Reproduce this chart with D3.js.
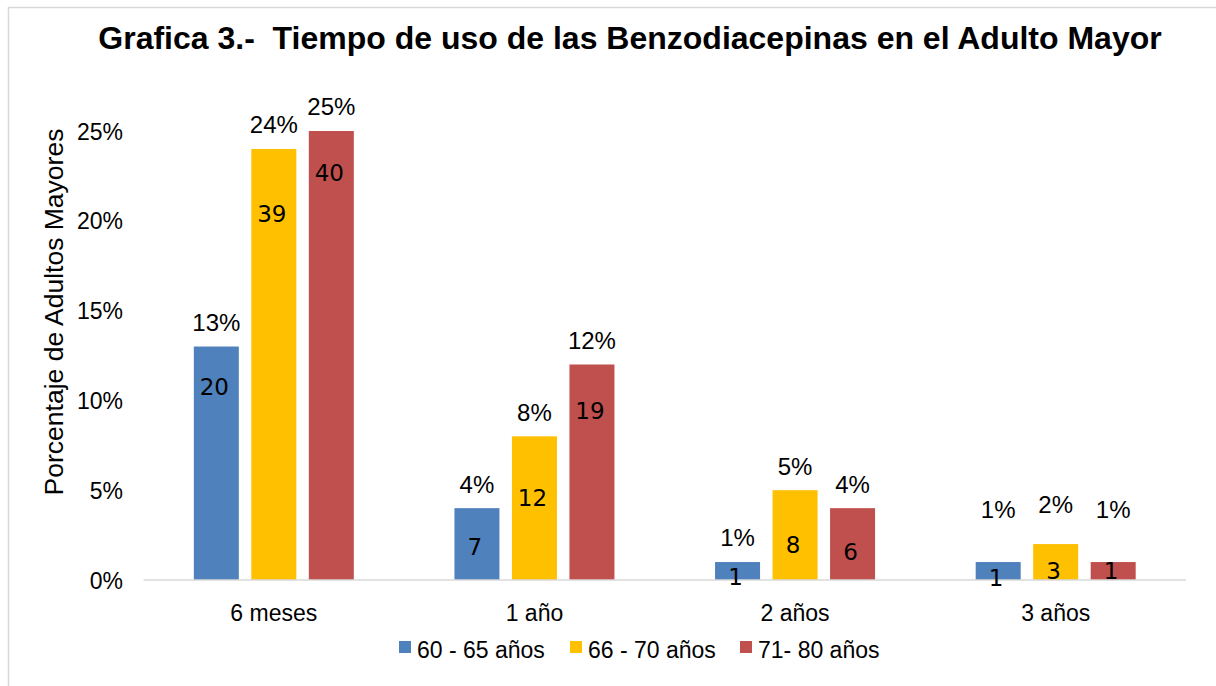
<!DOCTYPE html>
<html><head><meta charset="utf-8">
<script src="https://cdn.jsdelivr.net/npm/d3@7/dist/d3.min.js"></script>
<style>body{margin:0;background:#fff}svg{display:block}text{white-space:pre}</style>
</head><body>
<script>
const categories = ["6 meses", "1 año", "2 años", "3 años"];
const seriesNames = ["60 - 65 años", "66 - 70 años", "71- 80 años"];
const pct60 = [13, 4, 1, 1];
const pct66 = [24, 8, 5, 2];
const pct71 = [25, 12, 4, 1];
const cnt60 = [20, 7, 1, 1];
const cnt66 = [39, 12, 8, 3];
const cnt71 = [40, 19, 6, 1];
const yTicks = [0, 5, 10, 15, 20, 25];
const colors = ["#4F81BD", "#FFC000", "#C0504D"];
// label anchor values (layout, in axis units) mimicking manual placement
const cntLabelAt = [[10.75, 1.84, 0.17, 0.11], [20.4, 4.6, 1.95, 0.5], [22.7, 9.4, 1.6, 0.5]];
const pctLabelAt = [[13, 4, 1, 2.56], [24, 8, 5, 2.84], [25, 12, 4, 2.56]];

const W = 1216, H = 686;
const svg = d3.select("body").append("svg").attr("width", W).attr("height", H);
svg.append("path").attr("d", "M8.5,686 V7.5 H1216").attr("fill", "none").attr("stroke", "#d9d9d9").attr("stroke-width", 1.5);

const x0 = d3.scaleBand().domain(categories).range([143.5, 1186]);
const y = d3.scaleLinear().domain([0, 25]).range([580, 131]);
const barW = 45, gap = 12.5;
const x1 = i => -(3 * barW + 2 * gap) / 2 + i * (barW + gap);

const pcts = [pct60, pct66, pct71], cnts = [cnt60, cnt66, cnt71];

svg.append("text").attr("x", 630).attr("y", 49).attr("text-anchor", "middle")
  .attr("font-family", "Liberation Sans, Arial").attr("font-weight", "bold").attr("font-size", 32)
  .attr("xml:space", "preserve")
  .text("Grafica 3.-  Tiempo de uso de las Benzodiacepinas en el Adulto Mayor");

// y axis labels
const yAxis = d3.axisLeft(y).tickValues(yTicks).tickFormat(d => d + "%").tickSize(0).tickPadding(0);
const ga = svg.append("g").attr("transform", "translate(123,0)").call(yAxis);
ga.select(".domain").remove();
ga.selectAll("text").attr("font-family", "Liberation Sans, Arial").attr("font-size", 23).attr("fill", "#000").attr("dy", "0.35em");

svg.append("text").attr("transform", "translate(63,312) rotate(-90)").attr("text-anchor", "middle")
  .attr("font-family", "Liberation Sans, Arial").attr("font-size", 26.5).text("Porcentaje de Adultos Mayores");

// bars
seriesNames.forEach((s, si) => {
  const g = svg.append("g");
  g.selectAll("rect").data(categories).join("rect")
    .attr("x", (c) => x0(c) + x0.bandwidth() / 2 + x1(si))
    .attr("y", (c, i) => y(pcts[si][i]))
    .attr("width", barW)
    .attr("height", (c, i) => y(0) - y(pcts[si][i]))
    .attr("fill", colors[si]);
});

// baseline
svg.append("line").attr("x1", x0.range()[0]).attr("x2", x0.range()[1]).attr("y1", y(0)).attr("y2", y(0))
  .attr("stroke", "#d9d9d9").attr("stroke-width", 1.5);

// labels
seriesNames.forEach((s, si) => {
  categories.forEach((c, i) => {
    const cx = x0(c) + x0.bandwidth() / 2 + x1(si) + barW / 2;
    svg.append("text").attr("x", cx).attr("y", y(pctLabelAt[si][i]) - 24).attr("dy", "0.35em")
      .attr("text-anchor", "middle").attr("font-family", "Liberation Sans, Arial").attr("font-size", 24)
      .text(pcts[si][i] + "%");
    svg.append("text").attr("x", cx - 2).attr("y", y(cntLabelAt[si][i])).attr("dy", "0.36em")
      .attr("text-anchor", "middle").attr("font-family", "DejaVu Sans").attr("font-size", 23)
      .text(cnts[si][i]);
  });
});

// x axis labels
const xAxis = d3.axisBottom(x0).tickSize(0).tickPadding(0);
const gx = svg.append("g").attr("transform", "translate(0,613)").call(xAxis);
gx.select(".domain").remove();
gx.selectAll("text").attr("font-family", "Liberation Sans, Arial").attr("font-size", 23).attr("fill", "#000").attr("dy", "0.35em");

// legend
const legX = [399, 570, 740];
seriesNames.forEach((s, si) => {
  svg.append("rect").attr("x", legX[si]).attr("y", 641).attr("width", 12).attr("height", 12).attr("fill", colors[si]);
  svg.append("text").attr("x", legX[si] + 18).attr("y", 658)
    .attr("font-family", "Liberation Sans, Arial").attr("font-size", 23).text(s);
});
</script>
</body></html>
